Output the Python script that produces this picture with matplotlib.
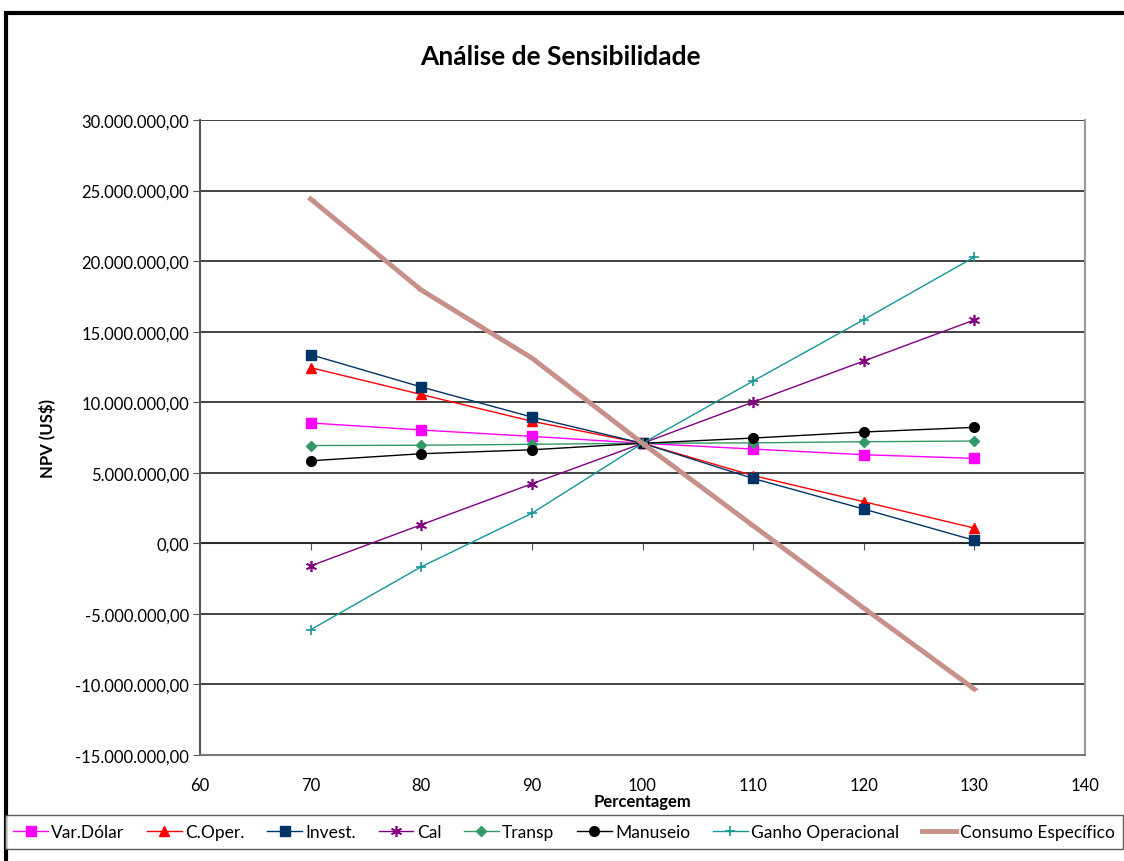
import matplotlib
matplotlib.use("Agg")
import matplotlib.pyplot as plt
from matplotlib.patches import Rectangle
from matplotlib.ticker import FuncFormatter, MultipleLocator

plt.rcParams['font.family'] = ['Lato', 'DejaVu Sans']

x = [70, 80, 90, 100, 110, 120, 130]
var_dolar = [8.53, 8.03, 7.58, 7.09, 6.68, 6.28, 6.02]
c_oper = [12.45, 10.55, 8.65, 7.09, 4.8, 2.95, 1.08]
invest = [13.37, 11.08, 8.95, 7.09, 4.6, 2.43, 0.21]
cal = [-1.6, 1.32, 4.22, 7.09, 10.01, 12.92, 15.83]
transp = [6.93, 6.95, 7.02, 7.09, 7.12, 7.2, 7.25]
manuseio = [5.85, 6.35, 6.63, 7.09, 7.46, 7.89, 8.22]
ganho = [-6.12, -1.66, 2.13, 7.09, 11.5, 15.85, 20.29]
consumo = [24.4, 17.95, 13.13, 7.09, 1.25, -4.59, -10.33]

series = [
    ("Var.Dólar", var_dolar, "#FF00FF", "s", 7, 1.0),
    ("C.Oper.", c_oper, "#FF0000", "^", 7, 1.0),
    ("Invest.", invest, "#003366", "s", 7, 1.0),
    ("Cal", cal, "#800080", (6, 2, 0), 8, 1.0),
    ("Transp", transp, "#339966", "D", 5, 1.0),
    ("Manuseio", manuseio, "#000000", "o", 7, 1.0),
    ("Ganho Operacional", ganho, "#169595", "+", 7, 1.0),
    ("Consumo Específico", consumo, "#C8908A", "_", 6, 3.5),
]

W, H = 1124, 862
fig = plt.figure(figsize=(W / 100, H / 100), dpi=100)
ax = fig.add_axes([200 / W, 1 - 756 / H, (1085 - 200) / W, (756 - 121) / H])

for name, vals, col, mk, ms, lw in series:
    thin = isinstance(mk, tuple) or mk in ("x", "+")
    ax.plot(x, [v * 1e6 for v in vals], color=col, marker=mk, markersize=ms,
            linewidth=lw, label=name, markeredgewidth=1.2 if thin else 1.0,
            zorder=3)

ax.set_xlim(60, 140)
ax.set_ylim(-15e6, 30e6)
ax.yaxis.set_major_locator(MultipleLocator(5e6))
ax.xaxis.set_major_locator(MultipleLocator(10))


def fmt(v, pos):
    s = f"{abs(v):,.2f}".replace(",", "X").replace(".", ",").replace("X", ".")
    return ("-" if v < 0 else "") + s


ax.yaxis.set_major_formatter(FuncFormatter(fmt))
ax.grid(axis='y', color='#222222', linewidth=1.2)
ax.set_axisbelow(True)
ax.spines['top'].set_visible(False)
ax.spines['right'].set_color('#999999')
ax.spines['bottom'].set_color('#777777')
ax.spines['left'].set_color('#555555')
ax.spines['right'].set_linewidth(1.5)
ax.spines['bottom'].set_linewidth(1.5)
ax.spines['left'].set_linewidth(1.5)
ax.tick_params(axis='x', length=0, labelsize=12, pad=16)
ax.tick_params(axis='y', direction='out', length=5, labelsize=12, color='#555555', pad=3)

sec = ax.secondary_xaxis(1 / 3)
sec.xaxis.set_major_locator(MultipleLocator(10))
sec.tick_params(axis='x', direction='out', length=5, labelbottom=False, color='#555555')
sec.spines['bottom'].set_color('#555555')
sec.spines['bottom'].set_linewidth(1.5)
sec.set_xticklabels([])

ax.set_xlabel("Percentagem", fontsize=12, fontweight='bold', labelpad=0)
ax.set_ylabel("NPV (US$)", fontsize=12, fontweight='bold', labelpad=14)
fig.text(560 / W, 1 - 57 / H, "Análise de Sensibilidade", fontsize=19,
         fontweight='bold', ha='center', va='center')

leg = fig.legend(loc='center', bbox_to_anchor=(564 / W, 1 - 833 / H), ncol=8,
                 fontsize=12.5, frameon=True, fancybox=False, edgecolor='#333333',
                 handlelength=2.0, handletextpad=0.2, columnspacing=1.3,
                 borderpad=0.5)
leg.get_frame().set_linewidth(1.0)

fig.patches.append(Rectangle((6 / W, -0.01), 1.1, 1 - 14 / H + 0.01,
                             transform=fig.transFigure, fill=False,
                             edgecolor='black', linewidth=3, zorder=0))

fig.savefig("out.png", dpi=100)
